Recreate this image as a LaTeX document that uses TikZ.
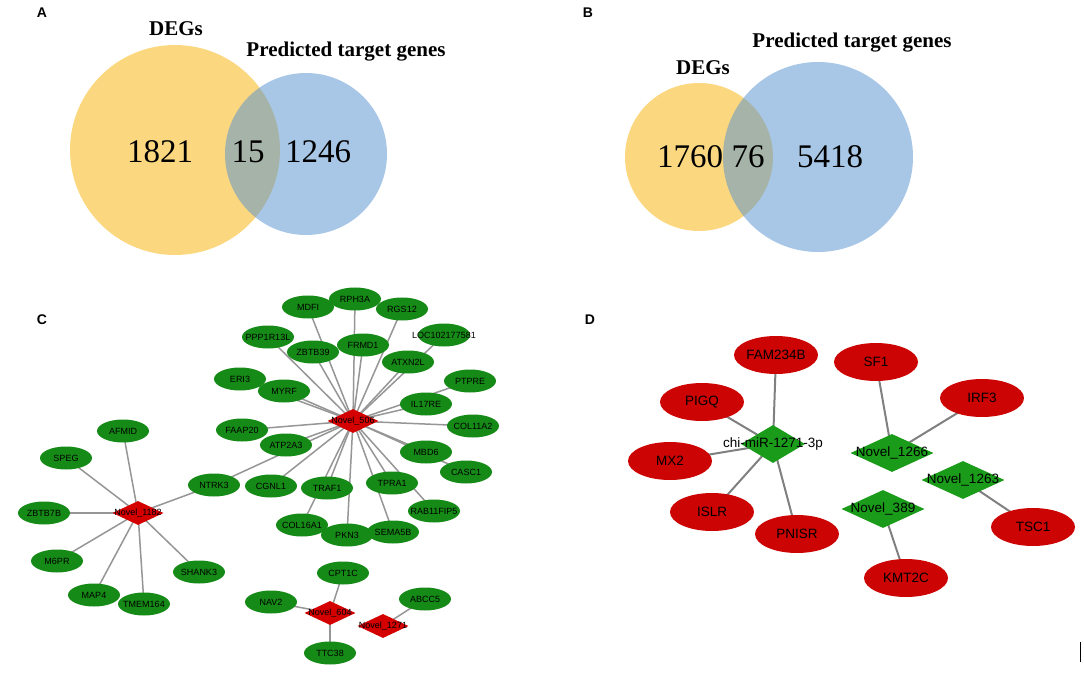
\documentclass[tikz,border=0pt]{standalone}
\usepackage{fontspec}
\setmainfont{Liberation Serif}
\newfontfamily\arialfont{Liberation Sans}
\usetikzlibrary{shapes.geometric}
\pgfdeclarelayer{back}
\pgfdeclarelayer{bg}
\pgfsetlayers{back,bg,main}
\definecolor{venny}{RGB}{249,176,0}
\definecolor{vennb}{RGB}{83,145,209}
\definecolor{cgreen}{RGB}{22,138,22}
\definecolor{cred}{RGB}{212,0,0}
\definecolor{dred}{RGB}{204,4,4}
\definecolor{dgreen}{RGB}{26,156,26}
\definecolor{edgegray}{RGB}{150,150,150}
\newcommand\zw[1]{\makebox[0pt]{#1}}
\begin{document}
\begin{tikzpicture}[x=1pt,y=-1pt,
  panel/.style={font=\arialfont\bfseries\fontsize{14}{14}\selectfont},
  venntitle/.style={font=\bfseries\fontsize{21}{21}\selectfont},
  vennnum/.style={font=\fontsize{33}{33}\selectfont},
  gC/.style={ellipse, fill=cgreen, minimum width=52pt, minimum height=23pt, inner sep=0pt, font=\arialfont\fontsize{9}{9}\selectfont},
  rC/.style={diamond, fill=cred, minimum width=51pt, minimum height=24pt, inner sep=0pt, font=\arialfont\fontsize{9}{9}\selectfont},
  rD/.style={ellipse, fill=dred, minimum width=84pt, minimum height=38pt, inner sep=0pt, font=\arialfont\fontsize{13.5}{13.5}\selectfont},
  gD/.style={diamond, fill=dgreen, minimum width=83pt, minimum height=38pt, inner sep=0pt, font=\arialfont\fontsize{13.5}{13.5}\selectfont},
  edgeC/.style={draw=edgegray, line width=1.5pt},
  edgeD/.style={draw=edgegray!85!black, line width=2pt}]
\useasboundingbox (0,0) rectangle (1084,676);
\begin{pgfonlayer}{back}
\fill[white] (0,0) rectangle (1084,676);
\end{pgfonlayer}

% ---------- Panel labels ----------
\node[panel] (labA) at (42,13) {A};
\node[panel] (labB) at (588,13) {B};
\node[panel] (labC) at (42,320) {C};
\node[panel] (labD) at (590,320) {D};

% ---------- Venn A ----------
\fill[venny, fill opacity=0.5] (175,150) circle[radius=105];
\fill[vennb, fill opacity=0.5] (306,154) circle[radius=81];
\node[venntitle] (degA) at (176,29) {DEGs};
\node[venntitle] (ptA) at (346,52) {Predicted target genes};
\node[vennnum] (a1) at (160,152) {1821};
\node[vennnum] (a2) at (248,152) {15};
\node[vennnum] (a3) at (318,152) {1246};

% ---------- Venn B ----------
\fill[venny, fill opacity=0.5] (699,157) circle[radius=74];
\fill[vennb, fill opacity=0.5] (818,157) circle[radius=95];
\node[venntitle] (degB) at (703,68) {DEGs};
\node[venntitle] (ptB) at (852,43) {Predicted target genes};
\node[vennnum] (b1) at (690,157) {1760};
\node[vennnum] (b2) at (748,157) {76};
\node[vennnum] (b3) at (830,157) {5418};

% ---------- Panel C ----------
\node[rC] (n506) at (353,421) {\zw{Novel\_506}};
\node[rC] (n1182) at (138,513) {\zw{Novel\_1182}};
\node[rC] (n604) at (330,613) {\zw{Novel\_604}};
\node[rC] (n1271) at (383,626) {\zw{Novel\_1271}};

\node[gC] (MDFI) at (308,307) {\zw{MDFI}};
\node[gC] (RGS12) at (402,309) {\zw{RGS12}};
\node[gC] (RPH3A) at (355,299) {\zw{RPH3A}};
\node[gC] (LOC) at (444,335) {\zw{LOC102177581}};
\node[gC] (PPP1R13L) at (268,337) {\zw{PPP1R13L}};
\node[gC] (ZBTB39) at (313,352) {\zw{ZBTB39}};
\node[gC] (FRMD1) at (363,345) {\zw{FRMD1}};
\node[gC] (ATXN2L) at (408,362) {\zw{ATXN2L}};
\node[gC] (ERI3) at (240,379) {\zw{ERI3}};
\node[gC] (MYRF) at (284,391) {\zw{MYRF}};
\node[gC] (PTPRE) at (470,381) {\zw{PTPRE}};
\node[gC] (IL17RE) at (426,404) {\zw{IL17RE}};
\node[gC] (COL11A2) at (473,426) {\zw{COL11A2}};
\node[gC] (FAAP20) at (242,430) {\zw{FAAP20}};
\node[gC] (ATP2A3) at (286,445) {\zw{ATP2A3}};
\node[gC] (MBD6) at (426,452) {\zw{MBD6}};
\node[gC] (CASC1) at (466,472) {\zw{CASC1}};
\node[gC] (NTRK3) at (214,485) {\zw{NTRK3}};
\node[gC] (CGNL1) at (271,486) {\zw{CGNL1}};
\node[gC] (TRAF1) at (327,488) {\zw{TRAF1}};
\node[gC] (TPRA1) at (392,483) {\zw{TPRA1}};
\node[gC] (RAB11FIP5) at (434,511) {\zw{RAB11FIP5}};
\node[gC] (COL16A1) at (302,525) {\zw{COL16A1}};
\node[gC] (SEMA5B) at (393,532) {\zw{SEMA5B}};
\node[gC] (PKN3) at (347,535) {\zw{PKN3}};
\node[gC] (AFMID) at (123,431) {\zw{AFMID}};
\node[gC] (SPEG) at (66,458) {\zw{SPEG}};
\node[gC] (ZBTB7B) at (44,513) {\zw{ZBTB7B}};
\node[gC] (M6PR) at (57,561) {\zw{M6PR}};
\node[gC] (MAP4) at (94,595) {\zw{MAP4}};
\node[gC] (TMEM164) at (144,604) {\zw{TMEM164}};
\node[gC] (SHANK3) at (199,572) {\zw{SHANK3}};
\node[gC] (CPT1C) at (343,573) {\zw{CPT1C}};
\node[gC] (NAV2) at (271,602) {\zw{NAV2}};
\node[gC] (TTC38) at (330,653) {\zw{TTC38}};
\node[gC] (ABCC5) at (425,599) {\zw{ABCC5}};

\begin{pgfonlayer}{bg}
\foreach \t in {MDFI,RPH3A,RGS12,LOC,PPP1R13L,ZBTB39,FRMD1,ATXN2L,ERI3,MYRF,PTPRE,IL17RE,COL11A2,FAAP20,ATP2A3,MBD6,CASC1,NTRK3,CGNL1,TRAF1,COL16A1,PKN3,SEMA5B,TPRA1,RAB11FIP5}
  \draw[edgeC] (n506.center) -- (\t.center);
\foreach \t in {AFMID,SPEG,ZBTB7B,M6PR,MAP4,TMEM164,SHANK3,NTRK3}
  \draw[edgeC] (n1182.center) -- (\t.center);
\foreach \t in {CPT1C,NAV2,TTC38}
  \draw[edgeC] (n604.center) -- (\t.center);
\draw[edgeC] (n1271.center) -- (ABCC5.center);
\end{pgfonlayer}

% ---------- Panel D ----------
\node[gD, minimum width=64pt] (mir) at (773,444) {\zw{chi-miR-1271-3p}};
\node[gD] (n1266) at (892,453) {\zw{Novel\_1266}};
\node[gD] (n1263) at (963,480) {\zw{Novel\_1263}};
\node[gD] (n389) at (883,509) {\zw{Novel\_389}};

\node[rD] (FAM234B) at (776,355) {\zw{FAM234B}};
\node[rD] (SF1) at (876,362) {\zw{SF1}};
\node[rD] (PIGQ) at (702,402) {\zw{PIGQ}};
\node[rD] (IRF3) at (982,398) {\zw{IRF3}};
\node[rD] (MX2) at (670,461) {\zw{MX2}};
\node[rD] (ISLR) at (712,512) {\zw{ISLR}};
\node[rD] (PNISR) at (797,534) {\zw{PNISR}};
\node[rD] (TSC1) at (1033,527) {\zw{TSC1}};
\node[rD] (KMT2C) at (906,578) {\zw{KMT2C}};

\begin{pgfonlayer}{bg}
\foreach \t in {FAM234B,PIGQ,MX2,ISLR,PNISR}
  \draw[edgeD] (mir.center) -- (\t.center);
\foreach \t in {SF1,IRF3}
  \draw[edgeD] (n1266.center) -- (\t.center);
\draw[edgeD] (n1263.center) -- (TSC1.center);
\draw[edgeD] (n389.center) -- (KMT2C.center);
\end{pgfonlayer}

% small mark at bottom right
\coordinate (m1) at (1080,642);
\coordinate (m2) at (1080,662);
\draw[black, line width=1pt] (m1) -- (m2);
\end{tikzpicture}
\end{document}
